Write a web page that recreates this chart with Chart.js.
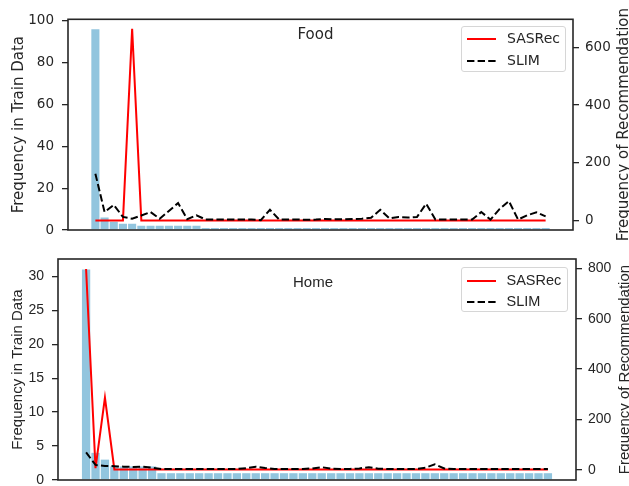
<!DOCTYPE html>
<html>
<head>
<meta charset="utf-8">
<script src="https://cdn.jsdelivr.net/npm/chart.js@4.4.1/dist/chart.umd.min.js"></script>
<style>
  html, body { margin: 0; padding: 0; background: #fff; }
  #wrap { position: relative; width: 629px; height: 486px; overflow: hidden; }
  .panel { position: absolute; left: 0; width: 629px; }
  .panel canvas { position: absolute; left: 0; top: 0; }
  .ptitle { position: absolute; color: #262626; white-space: nowrap; transform: translate(-50%, -50%); }
  .legend { position: absolute; background: rgba(255,255,255,0.8); border: 1px solid #d6d6d6; border-radius: 3px; box-sizing: border-box; }
  .legend .row { position: absolute; left: 0; height: 20px; width: 100%; }
  .legend svg { position: absolute; left: 5px; top: 9px; }
  .legend span { position: absolute; top: 0; line-height: 20px; color: #262626; white-space: nowrap; }
</style>
</head>
<body>
<div id="wrap">
  <div class="panel" id="panel_food" style="top:0;height:243px;">
    <canvas id="chart_food"></canvas>
    <div class="ptitle" style="left:315.5px;top:34px;font:15px 'DejaVu Sans';">Food</div>
    <div class="legend" id="legend_food" style="left:461px;top:25.5px;width:105px;height:46px;font:14px 'DejaVu Sans';"></div>
  </div>
  <div class="panel" id="panel_home" style="top:243px;height:253px;">
    <canvas id="chart_home"></canvas>
    <div class="ptitle" style="left:313px;top:38px;font:15px 'Liberation Sans';">Home</div>
    <div class="legend" id="legend_home" style="left:460.5px;top:24px;width:107px;height:45px;font:14.5px 'Liberation Sans';"></div>
  </div>
</div>
<script>
// item rank on the x axis (most frequent training item first)
const itemRank = [0,1,2,3,4,5,6,7,8,9,10,11,12,13,14,15,16,17,18,19,20,21,22,23,24,
                  25,26,27,28,29,30,31,32,33,34,35,36,37,38,39,40,41,42,43,44,45,46,47,48,49];

// Food
const foodTrain  = [96,6,4,3,3,2,2,2,2,2,2,2,1,1,1,1,1,1,1,1,1,1,1,1,1,
                    1,1,1,1,1,1,1,1,1,1,1,1,1,1,1,1,1,1,1,1,1,1,1,1,1];
const foodSASRec = [0,0,0,0,664,0,0,0,0,0,0,0,0,0,0,0,0,0,0,0,0,0,0,0,0,
                    0,0,0,0,0,0,0,0,0,0,0,0,0,0,0,0,0,0,0,0,0,0,0,0,0];
const foodSLIM   = [162,29,54,12,6,17,29,6,33,60,4,18,3,3,3,3,3,3,1,37,3,3,3,2,3,
                    5,4,4,5,6,9,37,7,12,10,12,58,3,3,3,3,3,29,3,40,67,3,18,28,14];
const foodTrainTicks = [0,20,40,60,80,100];
const foodRecTicks   = [0,200,400,600];

// Home
const homeTrain  = [31,4,3,2,2,2,2,2,1,1,1,1,1,1,1,1,1,1,1,1,1,1,1,1,1,
                    1,1,1,1,1,1,1,1,1,1,1,1,1,1,1,1,1,1,1,1,1,1,1,1,1];
const homeSASRec = [797,7,287,2,2,2,2,2,2,2,2,2,2,2,2,2,2,2,2,2,2,2,2,2,2,
                    2,2,2,2,2,2,2,2,2,2,2,2,2,2,2,2,2,2,2,2,2,2,2,2,2];
const homeSLIM   = [70,20,16,15,13,12,13,9,4,4,4,4,4,4,4,4,4,7,13,8,4,4,4,4,6,
                    11,5,4,4,6,11,5,4,4,4,4,9,22,6,4,4,4,4,4,4,4,4,4,4,4];
const homeTrainTicks = [0,5,10,15,20,25,30];
const homeRecTicks   = [0,200,400,600,800];

const INK = '#262626';
const BAR = '#92c5de';

const PANELS = [
  { key: 'food', font: 'DejaVu Sans', tickSize: 13.5, canvasH: 243,
    train: foodTrain, sasrec: foodSASRec, slim: foodSLIM,
    leftTicks: foodTrainTicks, rightTicks: foodRecTicks,
    leftMax: 100.8, rightMin: -33.2, rightMax: 697.2, xMin: -2.98, xMax: 51.98,
    area: { left: 68, right: 573, top: 19.3, bottom: 230 }, labelX: { left: 23, right: 628 } },
  { key: 'home', font: 'Liberation Sans', tickSize: 14, canvasH: 253,
    train: homeTrain, sasrec: homeSASRec, slim: homeSLIM,
    leftTicks: homeTrainTicks, rightTicks: homeRecTicks,
    leftMax: 32.55, rightMin: -39.85, rightMax: 836.85, xMin: -2.98, xMax: 51.98,
    area: { left: 58, right: 576, top: 16, bottom: 237 }, labelX: { left: 22, right: 629 } },
];

// spines all round the plot area
const framePlugin = {
  id: 'frame',
  afterDraw(chart) {
    const { ctx, chartArea: a } = chart;
    ctx.save();
    ctx.strokeStyle = INK;
    ctx.lineWidth = 1.6;
    ctx.strokeRect(a.left, a.top, a.right - a.left, a.bottom - a.top);
    ctx.restore();
  }
};

// both y titles read bottom-to-top, like matplotlib
const axisLabelPlugin = {
  id: 'axisLabels',
  afterDraw(chart, args, opts) {
    const { ctx, chartArea: a } = chart;
    const cy = (a.top + a.bottom) / 2;
    ctx.save();
    ctx.fillStyle = INK;
    ctx.font = `15px '${opts.family}'`;
    ctx.textAlign = 'center';
    ctx.textBaseline = 'alphabetic';
    [[opts.leftX, opts.left], [opts.rightX, opts.right]].forEach(([x, text]) => {
      ctx.save();
      ctx.translate(x, cy);
      ctx.rotate(-Math.PI / 2);
      ctx.fillText(text, 0, 0);
      ctx.restore();
    });
    ctx.restore();
  }
};

function buildLegend(id) {
  const el = document.getElementById(id);
  el.innerHTML = `
    <div class="row" style="top:1.5px"><svg width="30" height="4"><line x1="0" y1="2" x2="29" y2="2" stroke="#f00" stroke-width="2"/></svg><span style="left:45px">SASRec</span></div>
    <div class="row" style="top:23px"><svg width="30" height="4"><line x1="0" y1="2" x2="29" y2="2" stroke="#000" stroke-width="2" stroke-dasharray="7.4 3.2"/></svg><span style="left:45px">SLIM</span></div>`;
}

// fixed axis box: width set, no extra vertical room for the end labels
const fitAxis = w => s => { s.width = w; s.paddingTop = 0; s.paddingBottom = 0; };

function buildPanel(p) {
  const canvas = document.getElementById(`chart_${p.key}`);
  canvas.width = 629;
  canvas.height = p.canvasH;
  const tickFont = { family: p.font, size: p.tickSize };
  const pts = arr => itemRank.map((x, i) => ({ x, y: arr[i] }));

  new Chart(canvas.getContext('2d'), {
    type: 'bar',
    data: {
      datasets: [
        { type: 'line', label: 'SLIM', data: pts(p.slim), yAxisID: 'y1',
          borderColor: '#000', borderWidth: 2, borderDash: [7.4, 3.2],
          pointRadius: 0, tension: 0, order: 1 },
        { type: 'line', label: 'SASRec', data: pts(p.sasrec), yAxisID: 'y1',
          borderColor: '#f00', borderWidth: 2,
          pointRadius: 0, tension: 0, order: 2 },
        { type: 'bar', label: 'train', data: pts(p.train), yAxisID: 'y',
          backgroundColor: BAR, barPercentage: 0.88, categoryPercentage: 1, order: 3 },
      ]
    },
    options: {
      responsive: false,
      animation: false,
      layout: { padding: { top: p.area.top, bottom: p.canvasH - p.area.bottom, left: 0, right: 0 } },
      plugins: {
        legend: { display: false },
        tooltip: { enabled: false },
        axisLabels: { family: p.font, left: 'Frequency in Train Data', right: 'Frequency of Recommendation',
                      leftX: p.labelX.left, rightX: p.labelX.right },
      },
      scales: {
        x: { type: 'linear', display: false, min: p.xMin, max: p.xMax, offset: false },
        y: {
          position: 'left', min: 0, max: p.leftMax,
          afterFit: fitAxis(p.area.left),
          afterBuildTicks: s => { s.ticks = p.leftTicks.map(v => ({ value: v })); },
          ticks: { color: INK, font: tickFont, padding: 8 },
          grid: { drawOnChartArea: false, tickLength: 6, color: INK, lineWidth: 1.3 },
          border: { display: false },
        },
        y1: {
          position: 'right', min: p.rightMin, max: p.rightMax,
          afterFit: fitAxis(629 - p.area.right),
          afterBuildTicks: s => { s.ticks = p.rightTicks.map(v => ({ value: v })); },
          ticks: { color: INK, font: tickFont, padding: 6 },
          grid: { drawOnChartArea: false, tickLength: 6, color: INK, lineWidth: 1.3 },
          border: { display: false },
        }
      }
    },
    plugins: [framePlugin, axisLabelPlugin]
  });
}

PANELS.forEach(buildPanel);
buildLegend('legend_food');
buildLegend('legend_home');
</script>
</body>
</html>
